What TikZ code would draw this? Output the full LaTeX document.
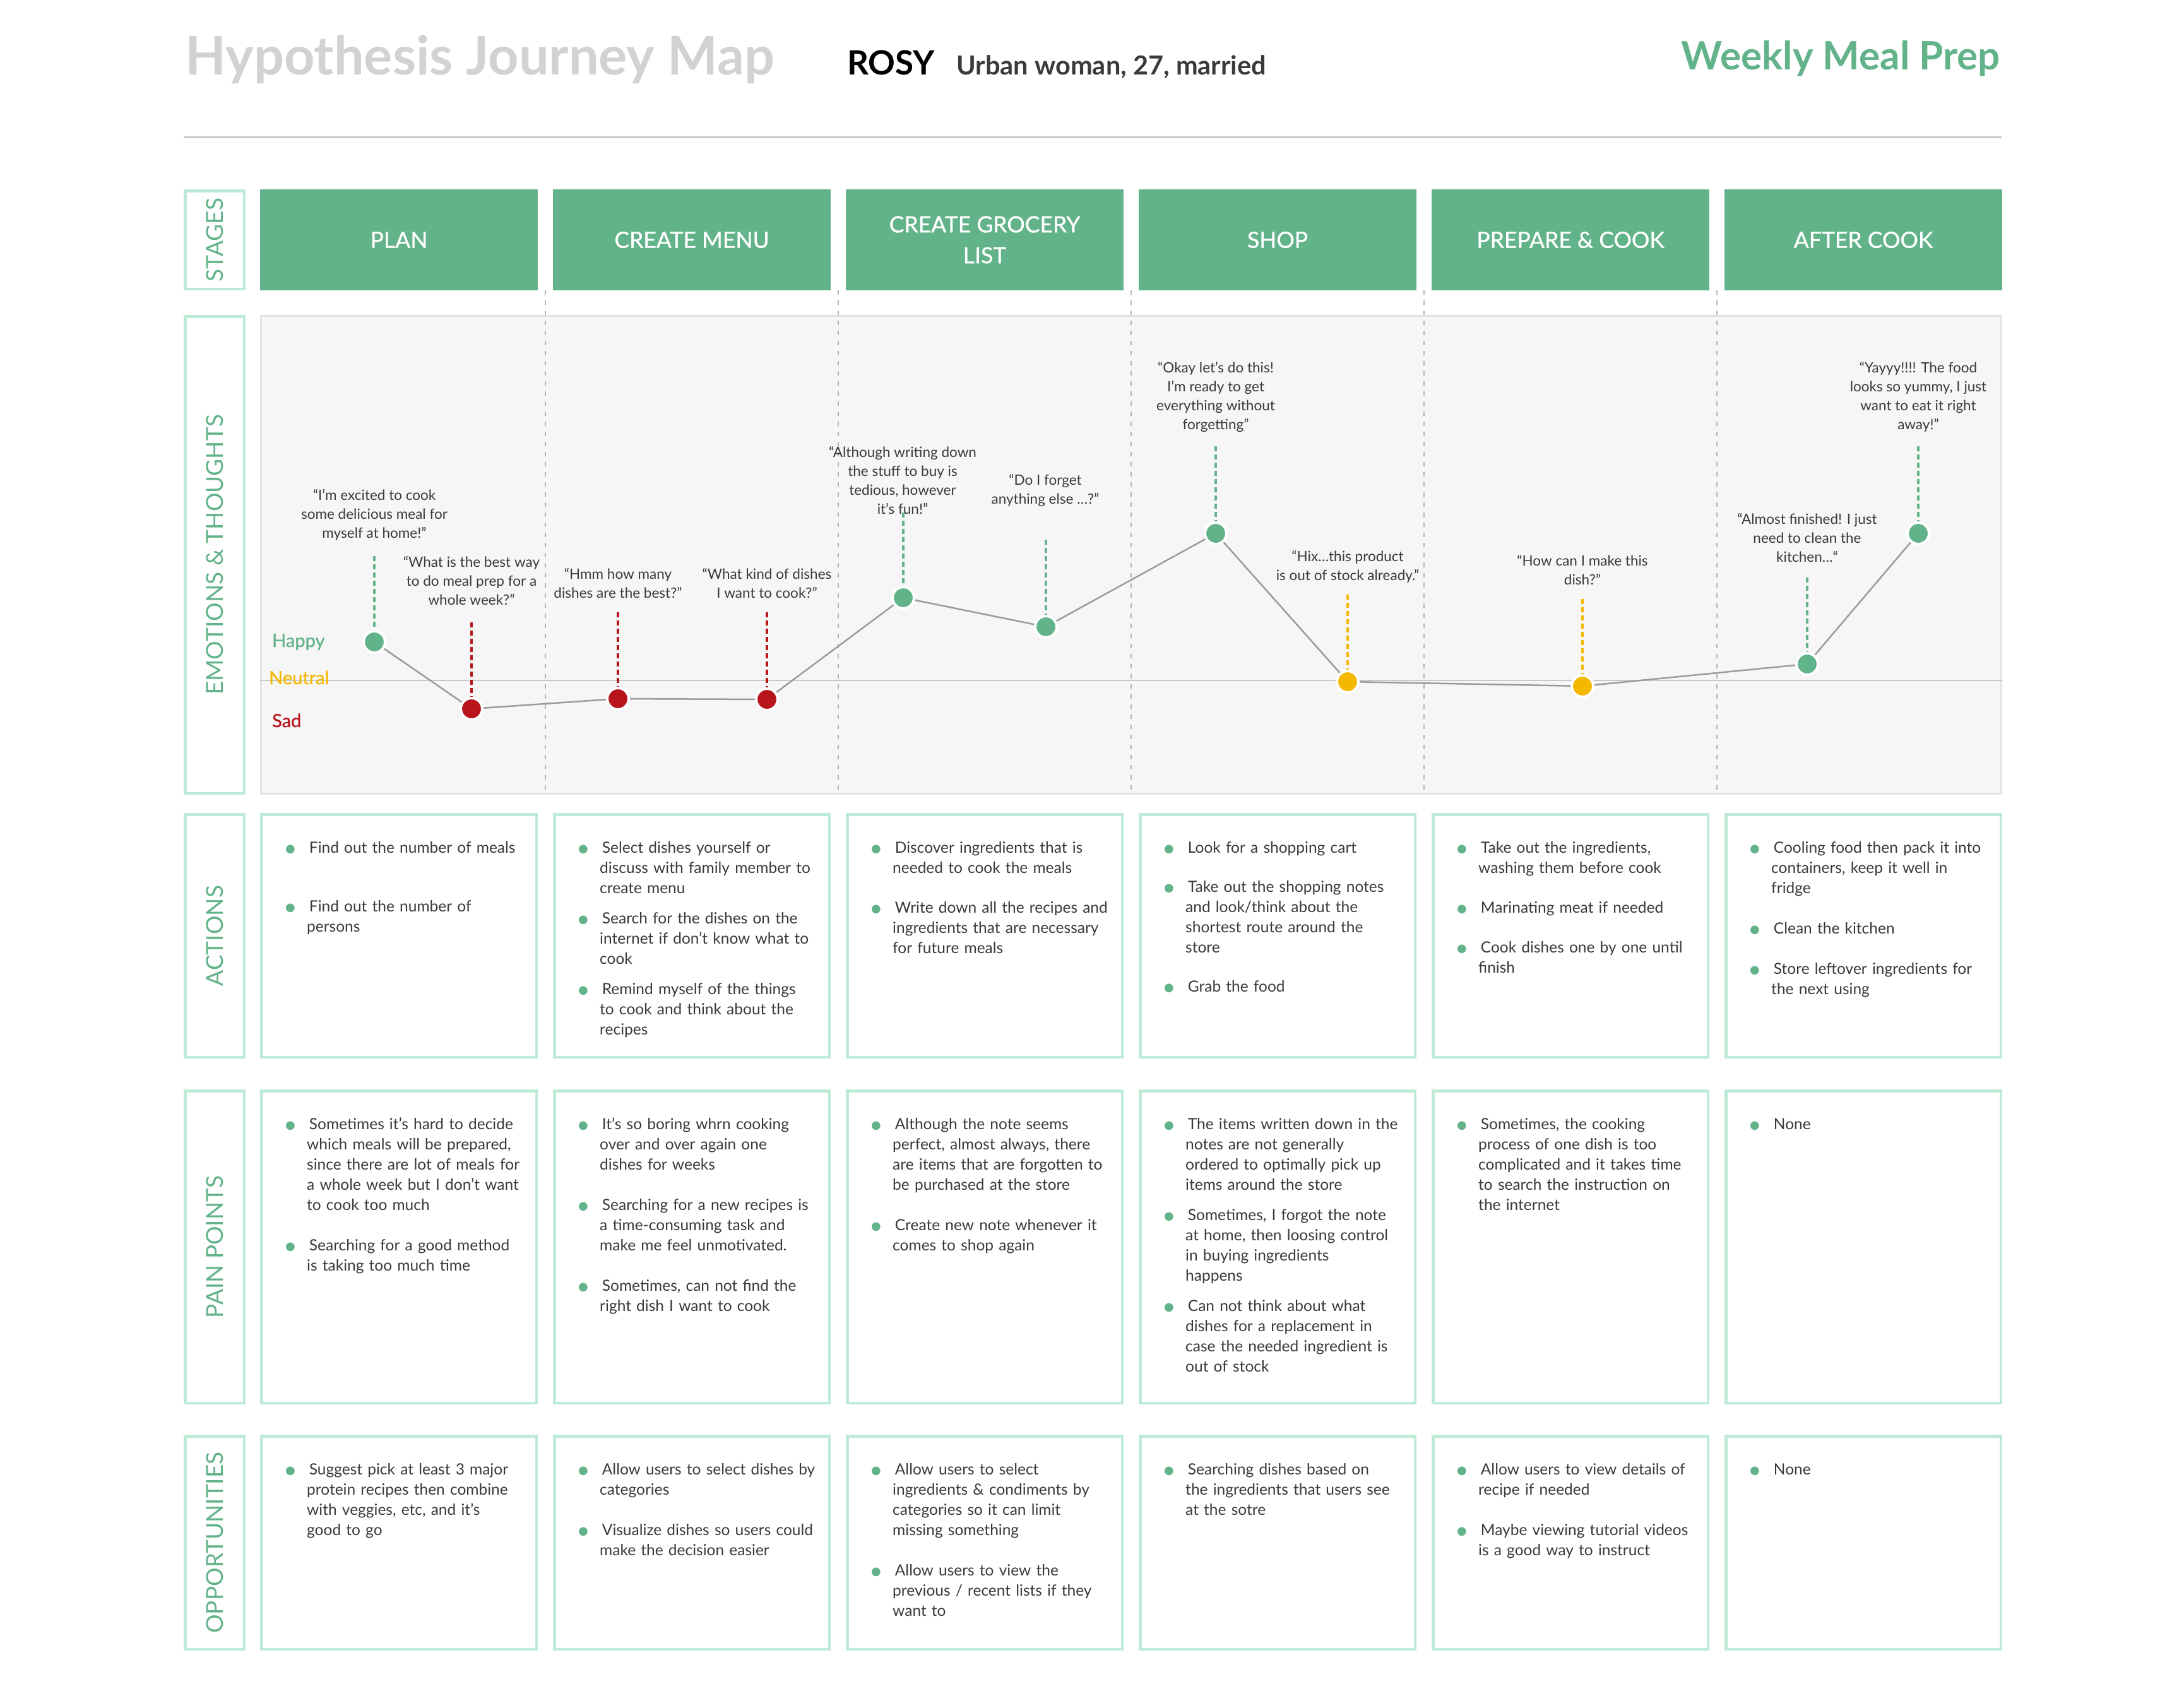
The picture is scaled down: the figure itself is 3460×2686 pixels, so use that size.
\documentclass[tikz,border=0pt]{standalone}
\usepackage{fontspec}
\setmainfont{Lato}
\newfontfamily\jmdotfont{DejaVu Sans}
\newfontfamily\stagefont[FakeBold=0.8]{Lato}
\usetikzlibrary{positioning, calc}
\definecolor{stagegreen}{RGB}{99, 179, 138}
\definecolor{mintline}{RGB}{190, 235, 213}
\definecolor{panelfill}{RGB}{246, 246, 246}
\definecolor{panelline}{RGB}{227, 227, 227}
\definecolor{sadred}{RGB}{184, 20, 28}
\definecolor{neutralyellow}{RGB}{245, 184, 0}
\definecolor{titlegray}{RGB}{210, 210, 210}
\definecolor{textgray}{RGB}{58, 58, 58}
\definecolor{moodgray}{RGB}{155, 155, 155}
\definecolor{sepgray}{RGB}{180, 180, 180}
\definecolor{rulegray}{RGB}{200, 200, 200}

\newcommand{\jmbullet}{\raisebox{1pt}{\textcolor{stagegreen}{\jmdotfont\fontsize{18}{18}\selectfont ●}}}
\newenvironment{jmlist}[1]{%
  \begin{list}{\jmbullet}{%
    \setlength{\leftmargin}{34pt}%
    \setlength{\labelwidth}{12pt}%
    \setlength{\labelsep}{22pt}%
    \setlength{\itemsep}{#1}%
    \setlength{\parsep}{0pt}%
    \setlength{\topsep}{0pt}%
    \setlength{\partopsep}{0pt}}}%
  {\end{list}}

\begin{document}
\begin{tikzpicture}[
    x=1pt, y=-1pt,
    stagebox/.style={
        rectangle,
        fill=stagegreen,
        minimum width=440pt,
        minimum height=160pt,
        inner sep=0pt,
        outer sep=0pt,
        text=white,
        align=center,
        font=\stagefont\fontsize{35.5}{49}\selectfont
    },
    rowlabel/.style={
        rectangle,
        draw=mintline,
        line width=4.5pt,
        rotate=90,
        minimum height=93.5pt,
        inner sep=0pt,
        text=stagegreen,
        font=\fontsize{37}{37}\selectfont
    },
    cellbox/.style={
        rectangle,
        draw=mintline,
        line width=4.5pt,
        fill=white,
        minimum width=435.5pt,
        inner sep=0pt
    },
    celltext/.style={
        anchor=north west,
        text width=395pt,
        inner sep=0pt,
        text=textgray,
        font=\fontsize{24.5}{32}\selectfont
    },
    panel/.style={
        rectangle,
        fill=panelfill,
        draw=panelline,
        line width=3pt,
        minimum width=2757pt,
        minimum height=757pt,
        anchor=north west
    },
    thought/.style={
        anchor=north,
        align=center,
        inner sep=0pt,
        text=textgray,
        font=\fontsize{22.5}{30}\selectfont
    },
    emo/.style={
        circle,
        minimum size=34pt,
        inner sep=0pt,
        draw=white,
        line width=4pt,
        fill=#1
    },
    leadline/.style={
        draw=#1,
        line width=4pt,
        dash pattern=on 8pt off 5pt
    },
    stagesep/.style={
        draw=sepgray,
        line width=2pt,
        dash pattern=on 7pt off 9pt
    },
    moodline/.style={
        draw=moodgray,
        line width=2.5pt
    },
    moodlabel/.style={
        anchor=base west,
        inner sep=0pt,
        font=\stagefont\fontsize{29}{29}\selectfont
    }
]

% Page
\fill[white] (0,0) rectangle (3460,2686);
\useasboundingbox (0,0) rectangle (3460,2686);

% Header
\node[anchor=base west, inner sep=0pt, text=titlegray, font=\fontsize{84.5}{84.5}\selectfont\bfseries] (title) at (293,118) {Hypothesis Journey Map};
\node[anchor=base west, inner sep=0pt, text=black, font=\fontsize{53}{53}\selectfont\bfseries] (persona) at (1342,118) {ROSY};
\node[base right=34pt of persona, inner sep=0pt, text=textgray, font=\fontsize{41.5}{41.5}\selectfont\bfseries] (personainfo) {Urban woman, 27, married};
\node[anchor=base east, inner sep=0pt, text=stagegreen, font=\fontsize{62}{62}\selectfont\bfseries] (topic) at (3169,110) {Weekly Meal Prep};
\coordinate (ruleleft) at (291,217);
\coordinate (ruleright) at (3171,217);
\draw[rulegray, line width=3pt] (ruleleft) -- (ruleright);

% Stages
\node[stagebox] (plan) at (632,380) {PLAN};
\node[stagebox, right=24pt of plan] (menu) {CREATE MENU};
\node[stagebox, right=24pt of menu] (grocery) {CREATE GROCERY\\LIST};
\node[stagebox, right=24pt of grocery] (shop) {SHOP};
\node[stagebox, right=24pt of shop] (cook) {PREPARE \& COOK};
\node[stagebox, right=24pt of cook] (after) {AFTER COOK};

% Emotions panel
\node[panel] (emopanel) at ($(plan.south west)+(0,39)$) {};

% Stage separators
\coordinate (sep1) at ($(plan.south east)!0.5!(menu.south west)$);
\coordinate (sep2) at ($(menu.south east)!0.5!(grocery.south west)$);
\coordinate (sep3) at ($(grocery.south east)!0.5!(shop.south west)$);
\coordinate (sep4) at ($(shop.south east)!0.5!(cook.south west)$);
\coordinate (sep5) at ($(cook.south east)!0.5!(after.south west)$);
\draw[stagesep] (sep1) -- (sep1 |- emopanel.south);
\draw[stagesep] (sep2) -- (sep2 |- emopanel.south);
\draw[stagesep] (sep3) -- (sep3 |- emopanel.south);
\draw[stagesep] (sep4) -- (sep4 |- emopanel.south);
\draw[stagesep] (sep5) -- (sep5 |- emopanel.south);

% Neutral level
\coordinate (neutralleft) at (emopanel.west |- 0,1078);
\coordinate (neutralright) at (emopanel.east |- 0,1078);
\draw[rulegray, line width=2.5pt] (neutralleft) -- (neutralright);
\node[moodlabel, text=stagegreen] (happy) at (431,1025) {Happy};
\node[moodlabel, text=neutralyellow] (neutral) at (426,1084) {Neutral};
\node[moodlabel, text=sadred] (sad) at (431,1152) {Sad};

% Thoughts
\node[thought] (q1) at (593,775) {“I’m excited to cook\\some delicious meal for\\myself at home!"};
\node[thought] (q2) at (747,881) {“What is the best way\\to do meal prep for a\\whole week?”};
\node[thought] (q3) at (979,900) {“Hmm how many\\dishes are the best?”};
\node[thought] (q4) at (1215,900) {“What kind of dishes\\I want to cook?”};
\node[thought] (q5) at (1430,707) {“Although writing down\\the stuff to buy is\\tedious, however\\it’s fun!”};
\node[thought] (q6) at (1656,751) {“Do I forget\\anything else …?”};
\node[thought] (q7) at (1926,573) {“Okay let’s do this!\\I’m ready to get\\everything without\\forgetting”};
\node[thought] (q8) at (2135,872) {“Hix…this product\\is out of stock already.”};
\node[thought] (q9) at (2507,879) {“How can I make this\\dish?”};
\node[thought] (q10) at (2863,813) {“Almost finished! I just\\need to clean the\\kitchen…“};
\node[thought] (q11) at (3039,573) {“Yayyy!!!! The food\\looks so yummy, I just\\want to eat it right\\away!”};

% Emotion points
\node[emo=stagegreen] (e1) at (593,1017) {};
\node[emo=sadred] (e2) at (747,1123) {};
\node[emo=sadred] (e3) at (979,1107) {};
\node[emo=sadred] (e4) at (1215,1108) {};
\node[emo=stagegreen] (e5) at (1431,947) {};
\node[emo=stagegreen] (e6) at (1657,993) {};
\node[emo=stagegreen] (e7) at (1926,845) {};
\node[emo=neutralyellow] (e8) at (2135,1080) {};
\node[emo=neutralyellow] (e9) at (2507,1087) {};
\node[emo=stagegreen] (e10) at (2863,1052) {};
\node[emo=stagegreen] (e11) at (3039,845) {};

\draw[moodline] (e1) -- (e2) -- (e3) -- (e4) -- (e5) -- (e6) -- (e7) -- (e8) -- (e9) -- (e10) -- (e11);

% Lead lines from thoughts to points
\coordinate (t1) at (e1 |- 0,881);
\coordinate (t2) at (e2 |- 0,986);
\coordinate (t3) at (e3 |- 0,970);
\coordinate (t4) at (e4 |- 0,970);
\coordinate (t5) at (e5 |- 0,812);
\coordinate (t6) at (e6 |- 0,855);
\coordinate (t7) at (e7 |- 0,707);
\coordinate (t8) at (e8 |- 0,942);
\coordinate (t9) at (e9 |- 0,949);
\coordinate (t10) at (e10 |- 0,915);
\coordinate (t11) at (e11 |- 0,707);
\draw[leadline=stagegreen] (t1) -- (e1);
\draw[leadline=sadred] (t2) -- (e2);
\draw[leadline=sadred] (t3) -- (e3);
\draw[leadline=sadred] (t4) -- (e4);
\draw[leadline=stagegreen] (t5) -- (e5);
\draw[leadline=stagegreen] (t6) -- (e6);
\draw[leadline=stagegreen] (t7) -- (e7);
\draw[leadline=neutralyellow] (t8) -- (e8);
\draw[leadline=neutralyellow] (t9) -- (e9);
\draw[leadline=stagegreen] (t10) -- (e10);
\draw[leadline=stagegreen] (t11) -- (e11);

% Cell boxes
\node[cellbox, minimum height=384.5pt, below=828pt of plan] (act1) {};
\node[cellbox, minimum height=384.5pt, below=828pt of menu] (act2) {};
\node[cellbox, minimum height=384.5pt, below=828pt of grocery] (act3) {};
\node[cellbox, minimum height=384.5pt, below=828pt of shop] (act4) {};
\node[cellbox, minimum height=384.5pt, below=828pt of cook] (act5) {};
\node[cellbox, minimum height=384.5pt, below=828pt of after] (act6) {};

\node[cellbox, minimum height=494.5pt, below=49pt of act1] (pain1) {};
\node[cellbox, minimum height=494.5pt, below=49pt of act2] (pain2) {};
\node[cellbox, minimum height=494.5pt, below=49pt of act3] (pain3) {};
\node[cellbox, minimum height=494.5pt, below=49pt of act4] (pain4) {};
\node[cellbox, minimum height=494.5pt, below=49pt of act5] (pain5) {};
\node[cellbox, minimum height=494.5pt, below=49pt of act6] (pain6) {};

\node[cellbox, minimum height=337.5pt, below=48pt of pain1] (opp1) {};
\node[cellbox, minimum height=337.5pt, below=48pt of pain2] (opp2) {};
\node[cellbox, minimum height=337.5pt, below=48pt of pain3] (opp3) {};
\node[cellbox, minimum height=337.5pt, below=48pt of pain4] (opp4) {};
\node[cellbox, minimum height=337.5pt, below=48pt of pain5] (opp5) {};
\node[cellbox, minimum height=337.5pt, below=48pt of pain6] (opp6) {};

% Row labels
\node[rowlabel, minimum width=155.5pt] (lstages) at (340,380) {STAGES};
\node[rowlabel, minimum width=755.5pt] (lemo) at (lstages |- emopanel) {EMOTIONS \& THOUGHTS};
\node[rowlabel, minimum width=384.5pt] (lact) at (lstages |- act1) {ACTIONS};
\node[rowlabel, minimum width=494.5pt] (lpain) at (lstages |- pain1) {PAIN POINTS};
\node[rowlabel, minimum width=337.5pt] (lopp) at (lstages |- opp1) {OPPORTUNITIES};

% Actions
\node[celltext] (act1txt) at ($(act1.north west)+(40,31)$) {\begin{jmlist}{61pt}
    \item Find out the number of meals
    \item Find out the number of\\persons
\end{jmlist}};
\node[celltext] (act2txt) at ($(act2.north west)+(40,31)$) {\begin{jmlist}{16pt}
    \item Select dishes yourself or\\discuss with family member to\\create menu
    \item Search for the dishes on the\\internet if don’t know what to\\cook
    \item Remind myself of the things\\to cook and think about the\\recipes
\end{jmlist}};
\node[celltext] (act3txt) at ($(act3.north west)+(40,31)$) {\begin{jmlist}{31pt}
    \item Discover ingredients that is\\needed to cook the meals
    \item Write down all the recipes and\\ingredients that are necessary\\for future meals
\end{jmlist}};
\node[celltext] (act4txt) at ($(act4.north west)+(40,31)$) {\begin{jmlist}{30pt}
    \item Look for a shopping cart
    \item Take out the shopping notes\\and look/think about the\\shortest route around the\\store
    \item Grab the food
\end{jmlist}};
\node[celltext] (act5txt) at ($(act5.north west)+(40,31)$) {\begin{jmlist}{31pt}
    \item Take out the ingredients,\\washing them before cook
    \item Marinating meat if needed
    \item Cook dishes one by one until\\finish
\end{jmlist}};
\node[celltext] (act6txt) at ($(act6.north west)+(40,31)$) {\begin{jmlist}{32pt}
    \item Cooling food then pack it into\\containers, keep it well in\\fridge
    \item Clean the kitchen
    \item Store leftover ingredients for\\the next using
\end{jmlist}};

% Pain points
\node[celltext] (pain1txt) at ($(pain1.north west)+(40,31)$) {\begin{jmlist}{32pt}
    \item Sometimes it’s hard to decide\\which meals will be prepared,\\since there are lot of meals for\\a whole week but I don’t want\\to cook too much
    \item Searching for a good method\\is taking too much time
\end{jmlist}};
\node[celltext] (pain2txt) at ($(pain2.north west)+(40,31)$) {\begin{jmlist}{32pt}
    \item It’s so boring whrn cooking\\over and over again one\\dishes for weeks
    \item Searching for a new recipes is\\a time-consuming task and\\make me feel unmotivated.
    \item Sometimes, can not find the\\right dish I want to cook
\end{jmlist}};
\node[celltext] (pain3txt) at ($(pain3.north west)+(40,31)$) {\begin{jmlist}{32pt}
    \item Although the note seems\\perfect, almost always, there\\are items that are forgotten to\\be purchased at the store
    \item Create new note whenever it\\comes to shop again
\end{jmlist}};
\node[celltext] (pain4txt) at ($(pain4.north west)+(40,31)$) {\begin{jmlist}{16pt}
    \item The items written down in the\\notes are not generally\\ordered to optimally pick up\\items around the store
    \item Sometimes, I forgot the note\\at home, then loosing control\\in buying ingredients\\happens
    \item Can not think about what\\dishes for a replacement in\\case the needed ingredient is\\out of stock
\end{jmlist}};
\node[celltext] (pain5txt) at ($(pain5.north west)+(40,31)$) {\begin{jmlist}{32pt}
    \item Sometimes, the cooking\\process of one dish is too\\complicated and it takes time\\to search the instruction on\\the internet
\end{jmlist}};
\node[celltext] (pain6txt) at ($(pain6.north west)+(40,31)$) {\begin{jmlist}{32pt}
    \item None
\end{jmlist}};

% Opportunities
\node[celltext] (opp1txt) at ($(opp1.north west)+(40,31)$) {\begin{jmlist}{32pt}
    \item Suggest pick at least 3 major\\protein recipes then combine\\with veggies, etc, and it’s\\good to go
\end{jmlist}};
\node[celltext] (opp2txt) at ($(opp2.north west)+(40,31)$) {\begin{jmlist}{32pt}
    \item Allow users to select dishes by\\categories
    \item Visualize dishes so users could\\make the decision easier
\end{jmlist}};
\node[celltext] (opp3txt) at ($(opp3.north west)+(40,31)$) {\begin{jmlist}{32pt}
    \item Allow users to select\\ingredients \& condiments by\\categories so it can limit\\missing something
    \item Allow users to view the\\previous / recent lists if they\\want to
\end{jmlist}};
\node[celltext] (opp4txt) at ($(opp4.north west)+(40,31)$) {\begin{jmlist}{32pt}
    \item Searching dishes based on\\the ingredients that users see\\at the sotre
\end{jmlist}};
\node[celltext] (opp5txt) at ($(opp5.north west)+(40,31)$) {\begin{jmlist}{32pt}
    \item Allow users to view details of\\recipe if needed
    \item Maybe viewing tutorial videos\\is a good way to instruct
\end{jmlist}};
\node[celltext] (opp6txt) at ($(opp6.north west)+(40,31)$) {\begin{jmlist}{32pt}
    \item None
\end{jmlist}};

\end{tikzpicture}
\end{document}
